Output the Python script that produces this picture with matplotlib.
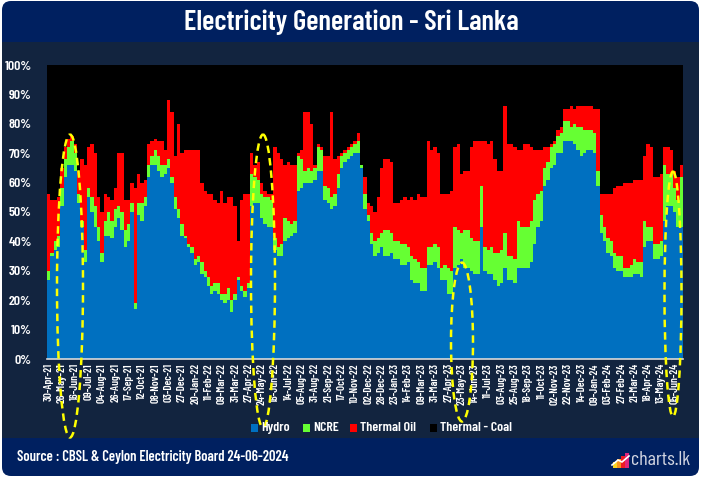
import numpy as np
import matplotlib
matplotlib.use("Agg")
import matplotlib.pyplot as plt
from matplotlib.patches import FancyBboxPatch, Rectangle, Ellipse
from matplotlib.ticker import FuncFormatter

# tick labels along the x axis (one label every 4 points)
tick_labels = ["30-Apr-21", "26-May-21", "16-Jun-21", "09-Jul-21", "04-Aug-21", "26-Aug-21",
               "17-Sep-21", "12-Oct-21", "08-Nov-21", "03-Dec-21", "27-Dec-21", "20-Jan-22",
               "11-Feb-22", "09-Mar-22", "31-Mar-22", "27-Apr-22", "24-May-22", "16-Jun-22",
               "14-Jul-22", "05-Aug-22", "31-Aug-22", "21-Sep-22", "17-Oct-22", "10-Nov-22",
               "02-Dec-22", "28-Dec-22", "23-Jan-23", "14-Feb-23", "09-Mar-23", "31-Mar-23",
               "27-Apr-23", "23-May-23", "14-Jun-23", "11-Jul-23", "03-Aug-23", "25-Aug-23",
               "18-Sep-23", "11-Oct-23", "02-Nov-23", "22-Nov-23", "14-Dec-23", "09-Jan-24",
               "03-Feb-24", "27-Feb-24", "21-Mar-24", "18-Apr-24", "13-May-24", "05-Jun-24"]

# share of generation (%)
hydro = [27, 35, 37, 38, 52, 62, 66, 66, 64, 53, 45, 33, 55, 50, 45, 40, 33, 42, 42, 41,
         45, 48, 44, 38, 40, 50, 17, 49, 47, 52, 62, 66, 66, 64, 62, 63, 65, 60, 51, 48,
         42, 41, 38, 36, 32, 33, 29, 28, 25, 22, 23, 22, 20, 19, 20, 16, 20, 27, 23, 21,
         24, 52, 53, 53, 48, 46, 45, 45, 37, 35, 35, 40, 41, 42, 43, 57, 58, 60, 60, 60,
         61, 64, 64, 54, 53, 51, 52, 58, 65, 67, 68, 69, 70, 70, 65, 51, 47, 39, 35, 36,
         38, 35, 35, 36, 34, 34, 32, 32, 33, 27, 26, 26, 23, 23, 32, 32, 33, 31, 27, 27,
         22, 22, 31, 32, 34, 31, 31, 30, 29, 29, 45, 30, 29, 29, 27, 25, 26, 31, 27, 27,
         26, 31, 31, 31, 31, 33, 39, 45, 47, 59, 61, 65, 66, 70, 70, 74, 74, 74, 73, 71,
         69, 70, 71, 71, 70, 59, 43, 40, 36, 35, 31, 30, 30, 28, 28, 28, 29, 29, 28, 38,
         40, 40, 34, 34, 35, 47, 52, 52, 50, 45, 45]
ncre = [3, 1, 3, 4, 6, 6, 6, 8, 6, 3, 2, 4, 3, 5, 7, 5, 3, 5, 8, 6,
        6, 4, 6, 6, 6, 3, 2, 4, 6, 3, 4, 3, 5, 5, 4, 3, 3, 2, 4, 3,
        4, 1, 1, 2, 2, 2, 4, 2, 3, 3, 3, 4, 2, 3, 4, 4, 2, 1, 2, 2,
        2, 11, 9, 8, 8, 9, 10, 9, 4, 3, 4, 8, 6, 4, 4, 12, 10, 4, 5, 4,
        4, 8, 7, 5, 5, 4, 4, 5, 4, 3, 3, 3, 3, 4, 1, 5, 2, 4, 5, 5,
        5, 9, 9, 7, 6, 6, 7, 7, 5, 8, 8, 7, 8, 8, 6, 6, 6, 7, 4, 5,
        9, 8, 14, 12, 9, 13, 13, 11, 11, 11, 14, 8, 8, 9, 9, 11, 11, 12, 8, 8,
        8, 16, 14, 14, 14, 14, 15, 11, 10, 6, 6, 7, 7, 6, 7, 7, 7, 5, 7, 8,
        10, 8, 7, 7, 7, 5, 6, 5, 5, 5, 5, 5, 5, 3, 3, 4, 5, 4, 5, 9,
        5, 5, 5, 5, 5, 19, 11, 11, 8, 9, 17]
thermal_oil = [26, 18, 14, 13, 7, 4, 3, 2, 3, 8, 21, 29, 14, 18, 18, 10, 14, 9, 5, 7,
               7, 18, 20, 10, 8, 7, 39, 10, 7, 6, 7, 5, 4, 5, 8, 5, 20, 22, 14, 29,
               24, 29, 32, 33, 37, 36, 27, 27, 28, 31, 28, 27, 35, 31, 31, 35, 30, 12, 29, 33,
               30, 7, 4, 6, 4, 2, 1, 2, 31, 32, 29, 18, 20, 20, 19, 1, 3, 20, 19, 16,
               1, 1, 1, 10, 11, 29, 12, 6, 1, 1, 1, 1, 1, 3, 0, 6, 4, 9, 10, 14,
               22, 24, 24, 24, 13, 13, 15, 16, 16, 20, 20, 23, 24, 24, 36, 33, 33, 32, 25, 24,
               25, 27, 27, 29, 20, 20, 20, 31, 34, 34, 15, 36, 36, 36, 32, 28, 27, 43, 38, 38,
               38, 24, 26, 28, 28, 25, 17, 15, 14, 7, 5, 1, 1, 2, 2, 4, 4, 7, 5, 7,
               7, 8, 8, 8, 8, 21, 7, 11, 15, 16, 22, 24, 24, 29, 29, 28, 27, 28, 28, 22,
               28, 27, 23, 23, 23, 6, 9, 8, 6, 8, 4]
thermal_coal = [44, 46, 46, 45, 35, 28, 25, 24, 27, 36, 32, 34, 28, 27, 30, 45, 50, 44, 45, 46,
                42, 30, 30, 46, 46, 40, 42, 37, 40, 39, 27, 26, 25, 26, 26, 29, 12, 16, 31, 20,
                30, 29, 29, 29, 29, 29, 40, 43, 44, 44, 46, 47, 43, 47, 45, 45, 48, 60, 46, 44,
                44, 30, 34, 33, 40, 43, 44, 44, 28, 30, 32, 34, 33, 34, 34, 30, 29, 16, 16, 20,
                34, 27, 28, 31, 31, 16, 32, 31, 30, 29, 28, 27, 26, 23, 34, 38, 47, 48, 50, 45,
                35, 32, 32, 33, 47, 47, 46, 45, 46, 45, 46, 44, 45, 45, 26, 29, 28, 30, 44, 44,
                44, 43, 28, 27, 37, 36, 36, 28, 26, 26, 26, 26, 27, 26, 32, 36, 36, 14, 27, 27,
                28, 29, 29, 27, 27, 28, 29, 29, 29, 28, 28, 27, 26, 22, 21, 15, 15, 14, 15, 14,
                14, 14, 14, 14, 15, 15, 44, 44, 44, 44, 42, 41, 41, 40, 40, 40, 39, 39, 39, 31,
                27, 28, 38, 38, 37, 28, 28, 29, 36, 38, 34]

series = [("Hydro", hydro, "#0070C0"),
          ("NCRE", ncre, "#66FF33"),
          ("Thermal Oil", thermal_oil, "#FF0000"),
          ("Thermal - Coal", thermal_coal, "#000000")]

FONT = ["Barlow Condensed", "Roboto Condensed", "DejaVu Sans"]
W, H = 702, 478
navy = "#002060"
body = "#12243F"

fig = plt.figure(figsize=(W / 100, H / 100), dpi=100)
fig.patch.set_facecolor("white")

# background panels, drawn in pixel coordinates (y pointing down)
bg = fig.add_axes([0, 0, 1, 1], zorder=0)
bg.set_xlim(0, W)
bg.set_ylim(H, 0)
bg.axis("off")
bg.add_patch(FancyBboxPatch((2, 1), 697, 475, boxstyle="round,pad=0,rounding_size=9",
                            fc=navy, ec="none"))
bg.add_patch(Rectangle((2, 42), 697, 396, fc=body, ec="none"))

# the stacked chart
ax = fig.add_axes([47 / W, 1 - 359 / H, 636 / W, 294 / H], zorder=1)
ax.set_facecolor("black")
edges = np.arange(len(hydro) + 1) - 0.5
base = np.zeros(len(hydro))
for name, vals, col in series:
    top = base + np.array(vals)
    ax.stairs(top, edges, baseline=base, fill=True, color=col, linewidth=0)
    base = top

ax.set_xlim(edges[0], edges[-1])
ax.set_ylim(0, 100)
ax.set_yticks(np.arange(0, 101, 10))
ax.yaxis.set_major_formatter(FuncFormatter(lambda v, p: f"{v:.0f}%"))
ax.set_xticks(np.arange(0, len(hydro), 4)[:len(tick_labels)])
ax.set_xticklabels(tick_labels, rotation=90)
ax.tick_params(axis="both", length=0, colors="white")
ax.tick_params(axis="y", pad=11, labelsize=10)
ax.tick_params(axis="x", pad=3, labelsize=8)
for lab in ax.get_xticklabels() + ax.get_yticklabels():
    lab.set_family(FONT)
    lab.set_fontweight(600)
for s in ["top", "right", "left"]:
    ax.spines[s].set_visible(False)
ax.spines["bottom"].set_color("#D9D9D9")
ax.spines["bottom"].set_linewidth(1.2)

# overlay for titles, legend, footer and the yellow highlight rings
ov = fig.add_axes([0, 0, 1, 1], zorder=2)
ov.set_xlim(0, W)
ov.set_ylim(H, 0)
ov.axis("off")
ov.patch.set_alpha(0)

ov.text(351, 22, "Electricity Generation - Sri Lanka", color="white", fontsize=20.5,
        fontweight=600, family=FONT, ha="center", va="center")

legend_x = [251, 303, 350, 430]
for (name, vals, col), lx in zip(series, legend_x):
    ov.add_patch(Rectangle((lx, 424), 7, 8, fc=col, ec="none"))
    ov.text(lx + 10, 428, name, color="white", fontsize=10, fontweight=600,
            family=FONT, ha="left", va="center")

ov.text(17, 457, "Source : CBSL & Ceylon Electricity Board 24-06-2024", color="white",
        fontsize=10.5, fontweight=600, family=FONT, ha="left", va="center")

# charts.lk mark
bar_cols = ["#F9D423", "#F7931E", "#ED1C24", "#E0247A"]
bar_h = [6, 9, 12, 15]
for k, (c, h) in enumerate(zip(bar_cols, bar_h)):
    ov.add_patch(Rectangle((613 + 4 * k, 468 - h), 3.5, h, fc=c, ec="none"))
ov.plot([612, 618, 622, 629], [465, 460, 462, 456], color="white", lw=1.2)
ov.text(631, 460, "charts.lk", color="#D3D6E2", fontsize=14.5, family=FONT,
        ha="left", va="center")

# dashed yellow ellipses
rings = [(70, 286, 26, 303), (263, 281, 24, 293), (462, 342, 22, 159), (673, 294, 17, 245)]
for cx, cy, w, h in rings:
    ov.add_patch(Ellipse((cx, cy), w, h, fill=False, ec="#FFFF00", lw=1.8,
                         ls=(0, (3, 2))))

fig.savefig("out.png", dpi=100, facecolor=fig.get_facecolor())
